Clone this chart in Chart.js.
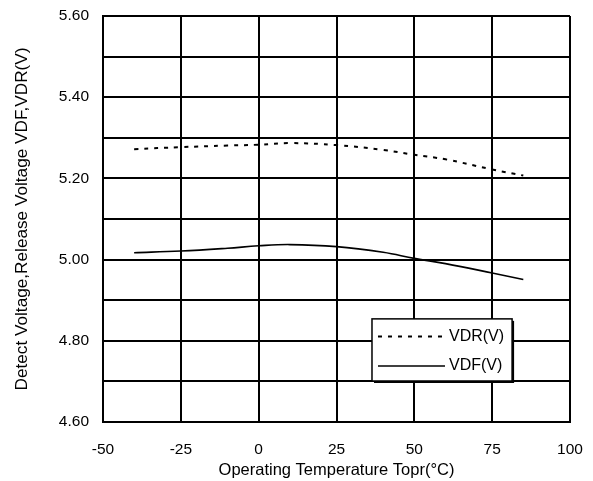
<!DOCTYPE html>
<html>
<head>
<meta charset="utf-8">
<script src="https://cdn.jsdelivr.net/npm/chart.js@4"></script>
<style>
  html, body { margin: 0; padding: 0; background: #fff; }
  #wrap { width: 593px; height: 481px; }
</style>
</head>
<body>
<div id="wrap"><canvas id="chart" width="593" height="481"></canvas></div>
<script>
const vdrTemp = [-40, -25, -10, 0, 10, 25, 40, 50, 60, 75, 85];
const vdrVolt = [5.272, 5.277, 5.281, 5.283, 5.287, 5.282, 5.270, 5.258, 5.247, 5.222, 5.207];
const vdfTemp = [-40, -25, -10, 0, 10, 25, 40, 50, 60, 75, 85];
const vdfVolt = [5.017, 5.021, 5.028, 5.034, 5.037, 5.032, 5.018, 5.003, 4.990, 4.967, 4.951];
const seriesNames = ["VDR(V)", "VDF(V)"];

const FONT = "'Liberation Sans', Arial, sans-serif";

function toPoints(xs, ys) {
  return xs.map((x, i) => ({ x: x, y: ys[i] }));
}

// legend box drawn inside the plot, lower right
const legendBox = {
  id: "legendBox",
  afterDatasetsDraw(chart) {
    const c = chart.ctx;
    const x = chart.scales.x, y = chart.scales.y;
    const left = x.getPixelForValue(36.4), right = x.getPixelForValue(81.4);
    const top = y.getPixelForValue(4.854), bottom = y.getPixelForValue(4.701);
    c.save();
    c.fillStyle = "#000";
    c.fillRect(left + 2, top + 2, right - left, bottom - top);
    c.fillStyle = "#fff";
    c.fillRect(left, top, right - left, bottom - top);
    c.strokeStyle = "#000";
    c.lineWidth = 1.5;
    c.strokeRect(left, top, right - left, bottom - top);
    const rows = [top + (bottom - top) * 0.285, top + (bottom - top) * 0.76];
    c.font = "16px " + FONT;
    c.textBaseline = "middle";
    c.fillStyle = "#000";
    rows.forEach((ry, i) => {
      c.beginPath();
      c.setLineDash(i === 0 ? [4, 6] : []);
      c.lineWidth = i === 0 ? 2 : 1.5;
      c.moveTo(left + 6, ry);
      c.lineTo(left + 73, ry);
      c.stroke();
      c.setLineDash([]);
      c.fillText(seriesNames[i], left + 77, ry);
    });
    c.restore();
  },
};

const ctx = document.getElementById("chart").getContext("2d");
const chart = new Chart(ctx, {
  type: "line",
  data: {
    datasets: [
      {
        label: seriesNames[0],
        data: toPoints(vdrTemp, vdrVolt),
        borderColor: "#000",
        borderWidth: 2,
        borderDash: [4, 6],
        pointRadius: 0,
        tension: 0.4,
        fill: false,
      },
      {
        label: seriesNames[1],
        data: toPoints(vdfTemp, vdfVolt),
        borderColor: "#000",
        borderWidth: 1.6,
        pointRadius: 0,
        tension: 0.4,
        fill: false,
      },
    ],
  },
  options: {
    responsive: false,
    animation: false,
    layout: { padding: { top: 16, right: 23, left: 0, bottom: 0 } },
    scales: {
      x: {
        type: "linear",
        min: -50,
        max: 100,
        afterFit(scale) {
          scale.height = 59;
          scale.paddingLeft = 0;
          scale.paddingRight = 0;
        },
        ticks: {
          stepSize: 25,
          color: "#000",
          padding: 18,
          font: { size: 15.5, family: FONT },
        },
        grid: { color: "#000", lineWidth: 2, drawTicks: false },
        border: { color: "#000", width: 2 },
        title: {
          display: true,
          text: "Operating Temperature Topr(°C)",
          color: "#000",
          padding: { top: 0, bottom: 1 },
          font: { size: 16.5, family: FONT },
        },
      },
      y: {
        min: 4.6,
        max: 5.6,
        afterFit(scale) {
          scale.width = 103;
          scale.paddingTop = 0;
          scale.paddingBottom = 0;
        },
        ticks: {
          stepSize: 0.1,
          color: "#000",
          padding: 14,
          font: { size: 15.5, family: FONT },
          callback: (v, i) => (i % 2 === 0 ? Number(v).toFixed(2) : ""),
        },
        grid: { color: "#000", lineWidth: 2, drawTicks: false },
        border: { color: "#000", width: 2 },
        title: {
          display: true,
          text: "Detect Voltage,Release Voltage VDF,VDR(V)",
          color: "#000",
          padding: { top: 12, bottom: 0 },
          font: { size: 17.2, family: FONT },
        },
      },
    },
    plugins: {
      legend: { display: false },
      tooltip: { enabled: false },
    },
  },
  plugins: [legendBox],
});
</script>
</body>
</html>
